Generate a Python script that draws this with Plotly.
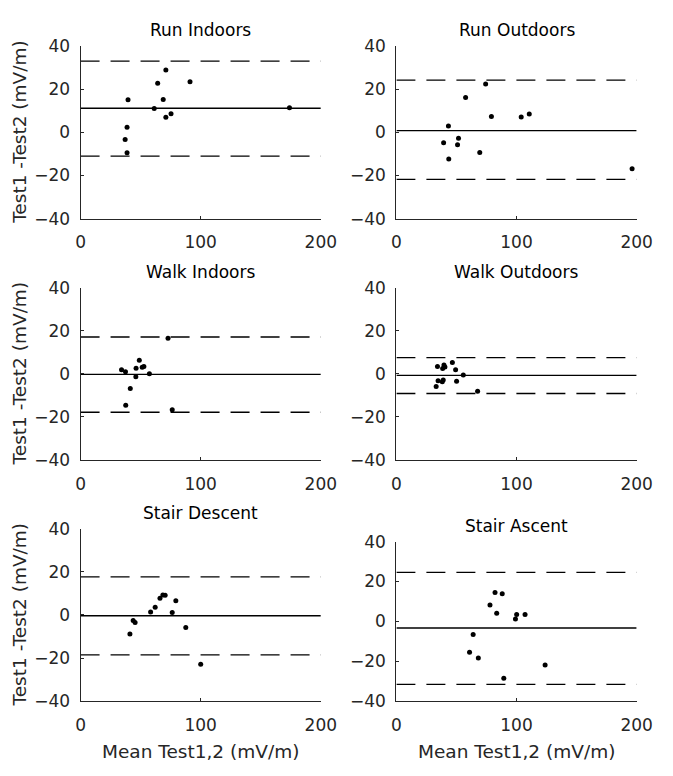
import plotly.graph_objects as go

W, H = 673, 776

titles = ["Run Indoors", "Run Outdoors", "Walk Indoors", "Walk Outdoors", "Stair Descent", "Stair Ascent"]

run_in_x = [39.5, 38.7, 37.1, 38.7, 61.3, 64.2, 71.0, 68.8, 71.0, 75.3, 91.1, 173.9]
run_in_y = [15.0, 2.3, -3.3, -9.5, 11.0, 22.7, 28.8, 15.2, 6.9, 8.6, 23.4, 11.3]
run_out_x = [39.3, 43.3, 43.6, 50.9, 51.7, 57.6, 69.4, 74.3, 79.1, 103.9, 110.6, 196.2]
run_out_y = [-4.9, 2.9, -12.4, -5.8, -2.8, 16.1, -9.4, 22.3, 7.3, 7.0, 8.5, -16.9]
walk_in_x = [34.1, 37.4, 37.6, 41.4, 46.0, 46.2, 48.9, 51.3, 52.7, 57.3, 72.8, 76.3]
walk_in_y = [1.9, 1.0, -14.6, -6.8, -1.3, 2.6, 6.3, 3.1, 3.4, 0.1, 16.5, -16.6]
walk_out_x = [33.1, 34.2, 34.7, 38.2, 39.0, 38.5, 39.6, 40.4, 46.6, 49.3, 50.1, 55.7, 67.6]
walk_out_y = [-5.9, 3.4, -3.2, -3.7, -2.8, 2.5, 4.1, 3.2, 5.3, 1.9, -3.4, -0.5, -8.1]
stair_desc_x = [41.1, 43.8, 45.4, 58.3, 62.1, 66.1, 68.5, 70.4, 76.3, 79.3, 87.6, 100.0]
stair_desc_y = [-8.8, -2.6, -3.5, 1.3, 3.5, 7.7, 9.2, 9.1, 1.1, 6.5, -5.8, -22.9]
stair_asc_x = [60.9, 63.9, 68.2, 77.9, 82.1, 83.5, 88.1, 89.4, 99.1, 100.1, 107.1, 123.8]
stair_asc_y = [-15.5, -6.6, -18.3, 8.2, 14.5, 4.1, 13.9, -28.5, 1.2, 3.5, 3.5, -21.8]

mean_bias = [11.1, 0.8, -0.2, -0.7, -0.4, -3.3]
upper_loa = [32.9, 24.1, 17.1, 7.5, 17.6, 24.6]
lower_loa = [-11.0, -21.8, -17.8, -9.1, -18.5, -31.6]

xs = [run_in_x, run_out_x, walk_in_x, walk_out_x, stair_desc_x, stair_asc_x]
ys = [run_in_y, run_out_y, walk_in_y, walk_out_y, stair_desc_y, stair_asc_y]

X_RANGE = [0, 200]
Y_RANGE = [-40, 40]
x_ticks = [0, 100, 200]
y_ticks = [-40, -20, 0, 20, 40]
y_label = "Test1 -Test2 (mV/m)"
x_label = "Mean Test1,2 (mV/m)"

FONT = "DejaVu Sans"
AX = "#262626"

# pixel layout (left, right, top, bottom)
cols_px = [(78, 326), (404, 652)]
rows_px = [[(36.7, 214.3), (36.7, 214.3)],
           [(285, 462), (285, 462)],
           [(532.3, 709.5), (545.7, 709.5)]]

fig = go.Figure()
annotations = []
layout = {}
for i in range(6):
    r, c = divmod(i, 2)
    n = i + 1
    xa = "x" if n == 1 else f"x{n}"
    ya = "y" if n == 1 else f"y{n}"
    l, rr = cols_px[c]
    t, b = rows_px[r][c]
    layout["xaxis" if n == 1 else f"xaxis{n}"] = dict(
        domain=[l / W, rr / W], anchor=ya, range=X_RANGE, tickvals=x_ticks,
        ticks="inside", ticklen=3, tickcolor=AX, showline=True, linecolor=AX,
        linewidth=1.2, showgrid=False, zeroline=False, mirror=False,
        tickfont=dict(family=FONT, size=17, color=AX), ticklabelstandoff=8,
        fixedrange=True)
    layout["yaxis" if n == 1 else f"yaxis{n}"] = dict(
        domain=[1 - b / H, 1 - t / H], anchor=xa, range=Y_RANGE, tickvals=y_ticks,
        ticks="inside", ticklen=3, tickcolor=AX, showline=True, linecolor=AX,
        linewidth=1.2, showgrid=False, zeroline=False, mirror=False,
        tickfont=dict(family=FONT, size=17, color=AX), ticklabelstandoff=6,
        fixedrange=True)
    # limit lines
    for val, dash in [(upper_loa[i], "19px,11px"), (lower_loa[i], "19px,11px"), (mean_bias[i], "solid")]:
        fig.add_trace(go.Scatter(x=X_RANGE, y=[val, val], mode="lines", xaxis=xa, yaxis=ya,
                                 line=dict(color="black", width=1.3, dash=dash),
                                 showlegend=False, hoverinfo="skip", cliponaxis=False))
    fig.add_trace(go.Scatter(x=xs[i], y=ys[i], mode="markers", xaxis=xa, yaxis=ya,
                             marker=dict(color="black", size=5), showlegend=False,
                             cliponaxis=False))
    # title
    annotations.append(dict(text=titles[i], x=(l + rr) / 2 / W, y=1 - (t - 16.5) / H,
                            xref="paper", yref="paper", xanchor="center", yanchor="middle",
                            showarrow=False, font=dict(family=FONT, size=17, color="black")))
    if c == 0:
        annotations.append(dict(text=y_label, x=15 / W, y=1 - (t + b) / 2 / H,
                                xref="paper", yref="paper", xanchor="center", yanchor="middle",
                                textangle=-90, showarrow=False,
                                font=dict(family=FONT, size=18.5, color=AX)))
    if r == 2:
        annotations.append(dict(text=x_label, x=(l + rr) / 2 / W,
                                y=1 - 761 / H,
                                xref="paper", yref="paper", xanchor="center", yanchor="middle",
                                showarrow=False, font=dict(family=FONT, size=18.5, color=AX)))

fig.update_layout(**layout)
fig.update_layout(width=W, height=H, margin=dict(l=0, r=0, t=0, b=0),
                  paper_bgcolor="white", plot_bgcolor="white",
                  annotations=annotations, showlegend=False,
                  font=dict(family=FONT, color=AX))
fig.write_html("out.html", config={"displayModeBar": False})
